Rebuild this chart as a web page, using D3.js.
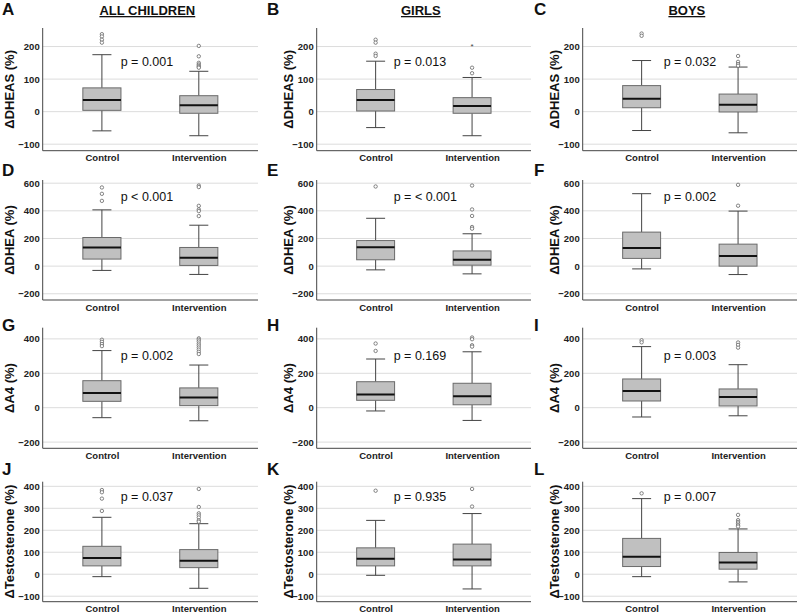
<!DOCTYPE html>
<html><head><meta charset="utf-8">
<script src="https://cdn.jsdelivr.net/npm/d3@7/dist/d3.min.js"></script>
<style>
body{margin:0;background:#fff;}
svg{display:block;font-family:Arial,"Liberation Sans",sans-serif;}
</style></head>
<body>
<script>
// ---------- data ----------
const groups = ["Control", "Intervention"];
const columnTitles = ["ALL CHILDREN", "GIRLS", "BOYS"];
const panelLetters = ["A","B","C","D","E","F","G","H","I","J","K","L"];
const yLabels = ["ΔDHEAS (%)", "ΔDHEA (%)", "ΔA4 (%)", "ΔTestosterone (%)"];
const yTicks = [[-100,0,100,200],[-200,0,200,400,600],[-200,0,200,400],[-100,0,100,200,300,400]];
const yDomains = [[-120,257],[-245,623],[-236,465],[-125,421]];
const pLabels = ["p = 0.001","p = 0.013","p = 0.032",
                 "p < 0.001","p = < 0.001","p = 0.002",
                 "p = 0.002","p = 0.169","p = 0.003",
                 "p = 0.037","p = 0.935","p = 0.007"];
// [whiskerLow, q1, median, q3, whiskerHigh]
const controlStats = [
  [-59,4,36,73,175],[-49,2,36,68,155],[-58,12,40,80,157],
  [-31,51,135,207,407],[-27,46,137,185,346],[-20,56,132,246,524],
  [-58,37,85,157,332],[-19,43,76,151,283],[-54,39,97,167,355],
  [-11,38,74,127,259],[-5,38,70,120,245],[-11,35,79,163,344]
];
const interventionStats = [
  [-74,-5,20,49,124],[-74,-5,17,43,105],[-65,-1,21,54,137],
  [-60,5,60,135,296],[-56,7,46,110,234],[-61,0,73,159,398],
  [-76,12,60,115,248],[-74,17,66,142,325],[-47,10,62,109,250],
  [-64,30,61,112,230],[-67,38,67,137,276],[-35,23,53,99,206]
];
const controlOutliers = [
  [238,231,221,212],[221,212,178,171],[240,233],
  [569,523,472],[576],[],
  [395,383,370,358],[373,330],[392,380],
  [383,373,344,288],[380],[368]
];
const interventionOutliers = [
  [202,170,150,145,141,138,135],[135,118],[171,153,146,141],
  [583,572,436,410,398,362],[583,410,363,283,271],[588,437],
  [403,395,385,373,362,350,338,325,312],[408,398,363,355],[379,365,349],
  [388,306,277,268,258,245,239],[388,308],[270,246,238,231,223,217]
];
const interventionExtremes = [[],[202],[],[],[],[],[],[],[],[],[],[]];

// ---------- layout ----------
const W = 799, H = 615;
const colX = [[42.7,258],[316.7,531],[582.7,797]];
const rowY = [[28,150.7],[180,300],[327.7,448.3],[481.7,601.7]];
const yTitleX = [11,290,556];
const pOffsetY = [35,18,29,16];
const pOffsetX = [78,77,81];

const svg = d3.select("body").append("svg").attr("width",W).attr("height",H);

// column titles
columnTitles.forEach((t,c)=>{
  svg.append("text").attr("x",(colX[c][0]+colX[c][1])/2-3).attr("y",15)
    .attr("text-anchor","middle").attr("font-size",13).attr("font-weight","bold")
    .attr("text-decoration","underline").attr("fill","#111").text(t);
});

for (let r=0;r<4;r++){
  for (let c=0;c<3;c++){
    const i = r*3+c;
    const [x0,x1] = colX[c];
    const [yTop,yBot] = rowY[r];
    const x = d3.scalePoint().domain(groups).range([x0,x1]).padding(0.611);
    const y = d3.scaleLinear().domain(yDomains[r]).range([yBot,yTop]);
    const g = svg.append("g");
    const bw = (x1-x0)*0.177;

    // letter
    const letterBase = [15,176,331,475][r];
    svg.append("text").attr("x",[2,267,534][c]).attr("y",letterBase)
      .attr("font-size",17).attr("font-weight","bold").attr("fill","#111").text(panelLetters[i]);

    // gridlines
    g.selectAll(".grid").data(yTicks[r]).join("line")
      .attr("x1",x0).attr("x2",x1).attr("y1",d=>y(d)).attr("y2",d=>y(d))
      .attr("stroke","#dcdcdc").attr("stroke-width",1);

    // y axis
    const ya = g.append("g").attr("transform",`translate(${x0},0)`)
      .call(d3.axisLeft(y).tickValues(yTicks[r]).tickSize(0).tickPadding(3));
    ya.select(".domain").remove();
    ya.selectAll("text").attr("font-size",9.5).attr("font-weight","bold").attr("fill","#222")
      .attr("font-family","Arial, Liberation Sans, sans-serif");
    g.append("line").attr("x1",x0).attr("x2",x0).attr("y1",yTop).attr("y2",yBot)
      .attr("stroke","#444").attr("stroke-width",1);

    // x axis
    const xa = g.append("g").attr("transform",`translate(0,${yBot})`)
      .call(d3.axisBottom(x).tickSize(0).tickPadding(4));
    xa.select(".domain").remove();
    xa.selectAll("text").attr("font-size",9.5).attr("font-weight","bold").attr("fill","#222")
      .attr("font-family","Arial, Liberation Sans, sans-serif");
    g.append("line").attr("x1",x0).attr("x2",x1).attr("y1",yBot).attr("y2",yBot)
      .attr("stroke","#444").attr("stroke-width",1);

    // y title
    svg.append("text")
      .attr("transform",`translate(${yTitleX[c]},${(yTop+yBot)/2}) rotate(-90)`)
      .attr("text-anchor","middle").attr("dominant-baseline","middle")
      .attr("font-size",13).attr("font-weight","bold").attr("fill","#111").text(yLabels[r]);

    // boxes
    const stats = [controlStats[i], interventionStats[i]];
    const outs = [controlOutliers[i], interventionOutliers[i]];
    const extremes = [[], interventionExtremes[i]];
    stats.forEach((s,k)=>{
      const cx = x(groups[k]);
      const [lo,q1,md,q3,hi] = s;
      const bg = g.append("g");
      bg.append("line").attr("x1",cx).attr("x2",cx).attr("y1",y(hi)).attr("y2",y(q3)).attr("stroke","#444");
      bg.append("line").attr("x1",cx).attr("x2",cx).attr("y1",y(q1)).attr("y2",y(lo)).attr("stroke","#444");
      [lo,hi].forEach(v=>bg.append("line").attr("x1",cx-bw/4).attr("x2",cx+bw/4)
        .attr("y1",y(v)).attr("y2",y(v)).attr("stroke","#444"));
      bg.append("rect").attr("x",cx-bw/2).attr("width",bw).attr("y",y(q3)).attr("height",y(q1)-y(q3))
        .attr("fill","#c0c0c0").attr("stroke","#6a6a6a").attr("stroke-width",1);
      bg.append("line").attr("x1",cx-bw/2).attr("x2",cx+bw/2).attr("y1",y(md)).attr("y2",y(md))
        .attr("stroke","#111").attr("stroke-width",2);
      bg.selectAll("circle").data(outs[k]).join("circle")
        .attr("cx",cx).attr("cy",d=>y(d)).attr("r",1.7)
        .attr("fill","#fff").attr("stroke","#666").attr("stroke-width",0.8);
      bg.selectAll(".ext").data(extremes[k]).join("text").attr("class","ext")
        .attr("x",cx).attr("y",d=>y(d)+3).attr("text-anchor","middle")
        .attr("font-size",8).attr("fill","#444").text("*");
    });

    // p label
    svg.append("text").attr("x",x0+pOffsetX[c]).attr("y",yTop+pOffsetY[r])
      .attr("dominant-baseline","middle").attr("font-size",12.5).attr("fill","#111").text(pLabels[i]);
  }
}
</script>
</body></html>
